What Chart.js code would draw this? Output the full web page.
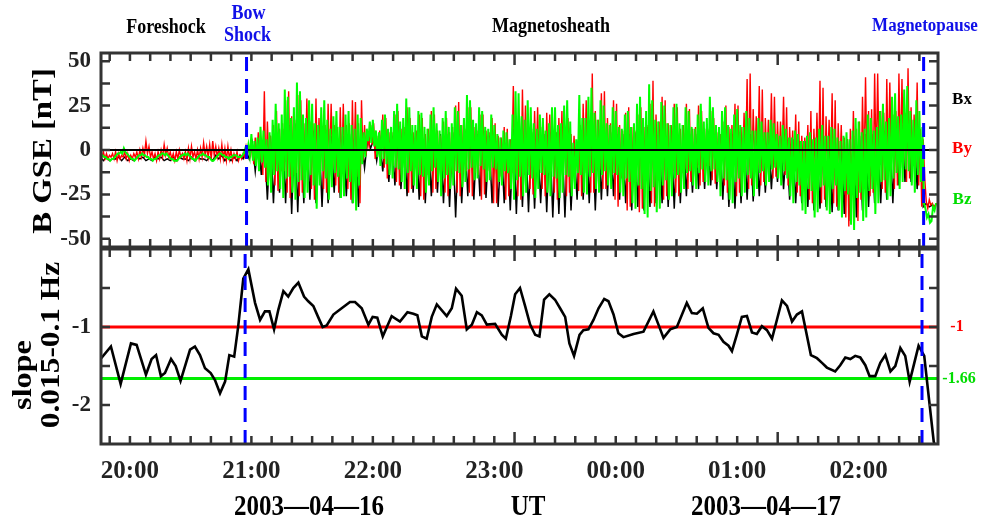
<!DOCTYPE html>
<html>
<head>
<meta charset="utf-8">
<script src="https://cdn.jsdelivr.net/npm/chart.js@4.4.0/dist/chart.umd.min.js"></script>
<style>
  body { margin: 0; background: #fff; }
  #wrap { position: relative; width: 985px; height: 525px; }
  canvas { position: absolute; left: 0; }
  #bfield { top: 0; }
  #slope { top: 248px; }
</style>
</head>
<body>
<div id="wrap">
  <canvas id="bfield" width="985" height="248"></canvas>
  <canvas id="slope" width="985" height="277"></canvas>
</div>
<script>
// time axis: minutes after 2003-04-16 20:00 UT
const xMin = -14.3;
const xMax = 399.2;
const binStart = -15;

const hourTicks = [0, 60, 120, 180, 240, 300, 360];
const hourLabels = ["20:00", "21:00", "22:00", "23:00", "00:00", "01:00", "02:00"];
const longTicks = [190, 320];

const bowShock = { top: 57.6, bottom: 56.9 };
const magnetopause = { top: 392.1, bottom: 391.3 };

const bTicks = [-50, -25, 0, 25, 50];
const slopeTicks = [-2, -1];
const slopeRed = -1;
const slopeGreen = -1.66;

// Bz and By: 1.5-minute bins, first and second sample of each bin (nT)
const bzUp = [
  -2, -3, -4, -5, -5, -4, -2, -1, 1, -2, -4, -5,
  -5, -3, -2, -3, -4, -5, -5, -4, -3, -2, -2, -4,
  -5, -6, -5, -3, -2, -2, -4, -5, -5, -3, -2, -3,
  -4, -6, -5, -3, -2, -3, -4, -4, -3, -3, -4, -3,
  1, 3, 9, 5, 7, 13, 11, 6, 10, 17, 26, 15,
  20, 34, 30, 18, 24, 38, 33, 20, 18, 28, 26, 15,
  14, 24, 28, 17, 12, 19, 22, 13, 13, 20, 22, 14,
  12, 20, 18, 10, 12, 16, 17, 11, 10, 17, 20, 12,
  13, 22, 26, 16, 18, 29, 24, 14, 14, 22, 21, 13,
  12, 20, 24, 15, 11, 18, 22, 13, 15, 24, 22, 14,
  18, 31, 28, 17, 15, 24, 22, 13, 12, 20, 14, 9,
  7, 11, 10, 6, 20, 33, 32, 19, 17, 28, 24, 15,
  12, 20, 18, 11, 15, 24, 24, 14, 15, 25, 28, 16,
  4, 6, 31, 18, 18, 30, 35, 21, 17, 28, 25, 15,
  14, 24, 22, 13, 12, 20, 22, 13, 15, 26, 30, 18,
  22, 37, 28, 17, 16, 27, 25, 15, 14, 24, 26, 15,
  14, 24, 22, 13, 12, 20, 26, 16, 18, 30, 24, 14,
  13, 22, 24, 14, 12, 20, 23, 14, 13, 22, 18, 11,
  11, 18, 16, 10, 10, 17, 15, 9, 8, 14, 12, 7,
  7, 11, 9, 5, 5, 8, 10, 6, 7, 12, 14, 8,
  8, 13, 12, 7, 5, 8, 10, 6, 11, 18, 16, 10,
  12, 20, 18, 11, 13, 22, 26, 16, 18, 30, 32, 19,
  20, 34, 36, 22, 17, 28, 22, 13, -33, -36, -40, -34
];
const bzDown = [
  -3, -4, -5, -6, -5, -3, -2, -2, -1, -3, -5, -6,
  -4, -3, -3, -4, -5, -6, -5, -3, -2, -3, -3, -5,
  -6, -6, -4, -3, -3, -3, -5, -6, -4, -3, -3, -4,
  -5, -6, -4, -2, -3, -4, -5, -4, -3, -4, -4, -2,
  -2, -3, -6, -9, -12, -7, -10, -20, -24, -14, -12, -22,
  -27, -16, -15, -24, -28, -18, -17, -27, -24, -14, -20, -33,
  -20, -12, -16, -28, -21, -13, -15, -27, -26, -16, -18, -30,
  -34, -20, -8, -4, 5, 4, 2, -4, -9, -5, -8, -14,
  -16, -10, -11, -18, -22, -13, -12, -20, -22, -14, -15, -24,
  -20, -12, -10, -18, -26, -16, -14, -22, -20, -12, -13, -21,
  -18, -11, -10, -17, -16, -9, -11, -18, -17, -10, -11, -18,
  -20, -12, -13, -22, -28, -17, -15, -26, -24, -14, -16, -27,
  -22, -13, -14, -24, -26, -15, -16, -27, -24, -14, -15, -26,
  -22, -13, -14, -24, -25, -15, -13, -22, -24, -14, -12, -20,
  -22, -13, -14, -24, -26, -16, -18, -30, -33, -20, -22, -36,
  -38, -23, -21, -35, -33, -20, -17, -28, -26, -16, -14, -24,
  -22, -13, -12, -20, -22, -13, -11, -18, -20, -12, -11, -18,
  -26, -16, -17, -28, -30, -18, -16, -26, -24, -14, -16, -26,
  -22, -13, -12, -20, -18, -11, -10, -16, -20, -12, -16, -26,
  -30, -18, -20, -34, -36, -22, -23, -38, -35, -21, -20, -34,
  -36, -22, -20, -34, -38, -23, -25, -42, -45, -27, -24, -40,
  -38, -23, -22, -36, -30, -18, -17, -28, -26, -16, -13, -22,
  -18, -11, -12, -20, -24, -14, -18, -30, -38, -41, -32, -30
];
const byUp = [
  -2, -1, -2, -3, -2, -1, -2, -3, -1, -2, -3, -2,
  -1, 0, 1, 5, 2, -1, -2, -1, 0, 3, 1, -1,
  -2, -1, 0, -2, -1, 1, 2, -1, 0, 1, 4, 2,
  3, 5, 2, 1, 3, 1, 2, 0, -2, -1, -3, -2,
  2, 1, 4, 7, 10, 6, 33, 16, 8, 14, 22, 12,
  15, 28, 33, 19, 17, 31, 28, 15, 29, 16, 15, 29,
  18, 10, 14, 26, 26, 14, 13, 24, 26, 14, 15, 28,
  27, 15, 28, 14, 7, 14, 15, 8, 11, 20, 18, 10,
  10, 20, 22, 12, 13, 24, 18, 10, 11, 20, 18, 9,
  12, 22, 20, 11, 8, 16, 18, 10, 13, 25, 27, 14,
  12, 24, 24, 13, 11, 20, 20, 11, 10, 18, 15, 8,
  7, 13, 12, 6, 36, 19, 18, 34, 25, 13, 12, 22,
  24, 13, 11, 21, 20, 11, 10, 18, 22, 12, 18, 9,
  8, 4, 14, 26, 28, 15, 43, 22, 17, 32, 33, 18,
  15, 28, 26, 14, 11, 21, 24, 13, 11, 20, 24, 13,
  14, 26, 39, 20, 16, 30, 28, 15, 14, 26, 24, 12,
  14, 26, 23, 12, 13, 25, 22, 12, 12, 22, 18, 10,
  9, 16, 25, 13, 14, 26, 25, 13, 21, 40, 43, 23,
  19, 36, 34, 18, 17, 32, 30, 16, 16, 30, 24, 13,
  11, 20, 16, 8, 7, 14, 22, 12, 21, 39, 35, 19,
  17, 32, 28, 15, 14, 7, 6, 12, 22, 12, 16, 30,
  41, 22, 23, 43, 43, 22, 21, 40, 38, 20, 22, 43,
  40, 21, 46, 24, 20, 38, 12, 6, -29, -28, -30, -31
];
const byDown = [
  -4, -5, -5, -4, -5, -6, -5, -4, -5, -6, -5, -4,
  -5, -4, -3, -2, -4, -5, -6, -5, -4, -3, -4, -5,
  -6, -5, -4, -5, -6, -5, -4, -5, -5, -4, -3, -4,
  -5, -3, -4, -5, -5, -6, -5, -6, -5, -6, -5, -4,
  -2, -3, -8, -4, -7, -14, -18, -9, -10, -20, -23, -12,
  -12, -24, -27, -14, -13, -26, -24, -12, -11, -22, -28, -14,
  -11, -22, -24, -12, -10, -20, -24, -12, -11, -22, -28, -14,
  -15, -30, -6, -3, 2, 3, -5, -2, -5, -10, -16, -8,
  -9, -18, -20, -10, -12, -24, -22, -11, -13, -26, -28, -14,
  -12, -24, -22, -11, -12, -24, -26, -13, -12, -24, -26, -13,
  -12, -24, -26, -13, -14, -28, -25, -12, -15, -30, -30, -15,
  -14, -28, -26, -13, -13, -26, -28, -14, -11, -22, -25, -12,
  -11, -22, -26, -13, -12, -24, -28, -14, -13, -26, -24, -12,
  -12, -23, -26, -13, -12, -24, -24, -12, -11, -22, -22, -11,
  -14, -28, -32, -16, -17, -34, -32, -16, -18, -35, -33, -17,
  -15, -30, -32, -16, -14, -28, -26, -13, -12, -24, -26, -13,
  -11, -22, -18, -9, -10, -20, -18, -9, -9, -17, -19, -10,
  -10, -20, -24, -12, -13, -26, -24, -12, -11, -22, -20, -10,
  -10, -20, -18, -9, -8, -16, -15, -8, -7, -14, -20, -10,
  -12, -24, -26, -13, -14, -28, -30, -15, -15, -30, -28, -14,
  -15, -30, -32, -16, -19, -38, -43, -22, -20, -40, -28, -14,
  -13, -26, -24, -12, -11, -22, -24, -12, -11, -22, -20, -10,
  -9, -18, -16, -8, -10, -20, -32, -16, -33, -31, -32, -30
];

// Bx: 3-minute bins, first and second sample of each bin (nT)
const bxUp = [
  -4, -4, -5, -4, -4, -5, -4, -4, -5, -4, -4, -5,
  -4, -4, -5, -4, -4, -5, -4, -3, -3, -4, -4, -3,
  0, 4, 6, 5, 8, 10, 12, 14, 15, 13, 12, 11,
  10, 10, 8, 9, 8, 9, 8, 6, 6, 6, 6, 7,
  8, 9, 10, 9, 8, 8, 8, 9, 9, 9, 10, 9,
  11, 10, 9, 9, 8, 7, 6, 6, 12, 12, 11, 10,
  9, 9, 10, 10, 10, 11, 3, 12, 12, 14, 12, 10,
  10, 9, 9, 9, 10, 11, 13, 12, 11, 10, 10, 10,
  10, 9, 9, 10, 11, 9, 9, 10, 9, 10, 10, 9,
  8, 8, 8, 7, 7, 6, 6, 5, 5, 5, 6, 6,
  6, 6, 5, 6, 8, 8, 9, 9, 10, 11, 12, 13,
  14, 16, 12, 8, -30, -31
];
const bxDown = [
  -6, -6, -5, -6, -6, -6, -5, -6, -6, -5, -6, -6,
  -6, -5, -6, -6, -5, -6, -6, -5, -6, -6, -6, -5,
  -5, -12, -14, -28, -30, -24, -30, -36, -35, -30, -28, -30,
  -32, -30, -24, -27, -26, -30, -32, -10, 1, -6, -12, -18,
  -20, -22, -26, -24, -28, -30, -26, -24, -30, -32, -38, -30,
  -26, -28, -26, -27, -30, -32, -30, -34, -36, -32, -35, -33,
  -30, -35, -38, -36, -38, -34, -28, -28, -30, -34, -28, -26,
  -26, -28, -30, -34, -32, -34, -32, -30, -30, -32, -33, -30,
  -26, -24, -22, -22, -20, -22, -28, -32, -33, -30, -28, -29,
  -26, -24, -22, -18, -22, -28, -30, -30, -32, -34, -33, -32,
  -35, -34, -36, -40, -38, -34, -32, -30, -30, -28, -30, -20,
  -18, -18, -22, -32, -32, -32
];

// spectral slope 0.015-0.1 Hz
const slopeTime = [
  -14.5, -9.4, -4.6, 0.5, 3.3, 7.9, 10.7, 12.9, 15.3, 17.3, 20.3, 22.6, 25,
  29.7, 32.1, 34.6, 37.1, 39.9, 42, 44.5, 47, 49.1, 51.5, 53.5, 56, 58.5,
  61.8, 64.3, 66.7, 68.9, 71.2, 73.3, 75.8, 78.2, 80.7, 83.2, 86, 88.1,
  90.6, 93.1, 95.2, 97.2, 100.5, 104.6, 108.7, 111.2, 114.5, 117.8, 119.9,
  122.2, 124.9, 129.3, 133.4, 137.1, 140, 142, 144.2, 146.6, 149.1, 151.6,
  156.5, 159, 161.1, 163.9, 166.4, 168.9, 171.4, 173.8, 176.3, 180.4, 183.7,
  185.7, 188.2, 190.3, 192.7, 195.2, 197.7, 200.2, 202.3, 204.6, 207.2, 210,
  212.5, 215, 217.1, 219.4, 222.1, 224, 226.5, 229, 231.5, 234.3, 236.4,
  238.9, 241.3, 243.8, 248.8, 253.7, 258.6, 263.6, 266.9, 270.2, 275.1,
  277.6, 280.1, 283, 285.8, 288.3, 290.8, 293.2, 295.7, 297.4, 299.8, 302.3,
  304.8, 307.3, 309.7, 312.2, 314.7, 317.2, 319.6, 322.1, 324.6, 327.1,
  329.5, 332, 336.4, 339.4, 341.9, 344.3, 348.4, 350.9, 353.4, 355.9, 358.3,
  360.8, 363.3, 365.4, 368.2, 370.7, 373.2, 375.7, 378.1, 380.6, 383, 385.2,
  387.5, 389.6, 392.4, 394.6, 397.1, 398.5
];
const slopeValue = [
  -1.41, -1.25, -1.73, -1.21, -1.23, -1.61, -1.41, -1.36, -1.63, -1.59, -1.41, -1.50, -1.69,
  -1.29, -1.25, -1.36, -1.53, -1.59, -1.68, -1.85, -1.70, -1.36, -1.38, -0.99, -0.38, -0.26,
  -0.69, -0.91, -0.80, -0.80, -1.03, -0.78, -0.54, -0.61, -0.50, -0.43, -0.61, -0.67,
  -0.73, -0.88, -1.00, -0.98, -0.84, -0.76, -0.68, -0.68, -0.76, -0.97, -0.87,
  -0.88, -1.12, -0.86, -0.93, -0.81, -0.83, -0.85, -1.12, -1.15, -0.87, -0.71,
  -0.86, -0.76, -0.51, -0.60, -1.03, -0.97, -0.81, -0.85, -0.97, -0.96, -1.10,
  -1.15, -0.86, -0.58, -0.50, -0.73, -0.97, -1.10, -1.12, -0.65, -0.58, -0.65,
  -0.76, -0.87, -1.21, -1.37, -1.10, -1.04, -1.03, -0.91, -0.76, -0.64, -0.67,
  -0.84, -1.08, -1.13, -1.09, -1.06, -0.80, -1.14, -1.03, -1.00, -0.69,
  -0.82, -0.83, -0.76, -1.01, -1.08, -1.10, -1.19, -1.24, -1.31, -1.10, -0.87,
  -0.86, -1.07, -1.09, -0.99, -1.04, -1.15, -0.91, -0.66, -0.73, -0.93,
  -0.84, -0.80, -1.36, -1.40, -1.46, -1.52, -1.57, -1.49, -1.39, -1.41, -1.37,
  -1.39, -1.49, -1.63, -1.63, -1.46, -1.36, -1.57, -1.50, -1.27, -1.37, -1.70,
  -1.46, -1.24, -1.37, -1.89, -2.47, -2.60
];

const serif = '"Liberation Serif", "Times New Roman", serif';

function zigzag(up, down, width, shift) {
  const pts = [];
  up.forEach((v, i) => {
    const t = binStart + i * width + shift;
    pts.push({ x: t, y: v });
    pts.push({ x: t + width / 2, y: down[i] });
  });
  return pts;
}

function vline(x, y0, y1) {
  return [{ x: x, y: y0 }, { x: x, y: y1 }];
}

function hline(y) {
  return [{ x: xMin, y: y }, { x: xMax, y: y }];
}

function drawText(ctx, t) {
  ctx.save();
  ctx.translate(t.x, t.y);
  const s = t.stretch || 1;
  if (t.rotate) {
    ctx.rotate(-Math.PI / 2);
    ctx.scale(s, 1);
  } else {
    ctx.scale(1, s);
  }
  ctx.font = "bold " + t.size + "px " + serif;
  ctx.fillStyle = t.color || "#000";
  ctx.textAlign = "center";
  ctx.textBaseline = "middle";
  ctx.fillText(t.text, 0, 0);
  ctx.restore();
}

// keep the plot area exactly where layout.padding puts it
function noEdgePadding(s) {
  s.paddingTop = 0;
  s.paddingBottom = 0;
  s.paddingLeft = 0;
  s.paddingRight = 0;
}

// box round the plot area with inward ticks on all four sides
const framePlugin = {
  id: "frame",
  afterDraw(chart, args, opts) {
    const { ctx, chartArea: a } = chart;
    const xs = chart.scales.x;
    const ys = chart.scales.y;
    ctx.save();
    ctx.strokeStyle = "#333";
    ctx.lineWidth = 2.5;
    ctx.beginPath();
    for (let m = -10; m <= 390; m += 10) {
      const px = xs.getPixelForValue(m);
      const len = longTicks.includes(m) ? 12 : 8;
      ctx.moveTo(px, a.top);
      ctx.lineTo(px, a.top + len);
      ctx.moveTo(px, a.bottom);
      ctx.lineTo(px, a.bottom - len);
    }
    opts.yMinor.forEach((v) => {
      const py = ys.getPixelForValue(v);
      ctx.moveTo(a.left, py);
      ctx.lineTo(a.left + 9, py);
      ctx.moveTo(a.right, py);
      ctx.lineTo(a.right - 9, py);
    });
    ctx.stroke();
    ctx.lineWidth = 3;
    ctx.strokeRect(a.left, a.top, a.right - a.left, a.bottom - a.top);
    ctx.restore();
    opts.texts(chart).forEach((t) => drawText(ctx, t));
  },
};

const tickFont = (size) => ({ family: serif, size: size, weight: "bold" });

// top panel: B field in GSE
const bCtx = document.getElementById("bfield").getContext("2d");
new Chart(bCtx, {
  type: "line",
  data: {
    datasets: [
      { data: vline(bowShock.top, -54.6, 54.6), borderColor: "#0000ff", borderWidth: 3, borderDash: [14, 8], order: 0 },
      { data: vline(magnetopause.top, -54.6, 54.6), borderColor: "#0000ff", borderWidth: 3, borderDash: [14, 8], order: 0 },
      { data: hline(0), borderColor: "#000", borderWidth: 2.2, order: 1 },
      { label: "Bz", data: zigzag(bzUp, bzDown, 1.5, 0), borderColor: "#00ff00", borderWidth: 2, order: 2 },
      { label: "By", data: zigzag(byUp, byDown, 1.5, 0.4), borderColor: "#ff0000", borderWidth: 1.4, order: 3 },
      { label: "Bx", data: zigzag(bxUp, bxDown, 3, 0.4), borderColor: "#000", borderWidth: 1.5, order: 4 },
    ],
  },
  options: {
    animation: false,
    responsive: false,
    devicePixelRatio: 1,
    events: [],
    layout: { padding: { left: 0, right: 47, top: 53, bottom: 1 } },
    elements: { point: { radius: 0 }, line: { tension: 0 } },
    scales: {
      x: { type: "linear", min: xMin, max: xMax, display: false },
      y: {
        min: -54.6,
        max: 54.6,
        afterFit: (s) => { s.width = 101; noEdgePadding(s); },
        afterBuildTicks: (s) => { s.ticks = bTicks.map((v) => ({ value: v })); },
        grid: { display: false, drawTicks: false },
        border: { display: false },
        ticks: { padding: 10, color: "#222", font: tickFont(23), callback: (v) => String(v) },
      },
    },
    plugins: {
      legend: { display: false },
      tooltip: { enabled: false },
      frame: {
        yMinor: [-50, -37.5, -25, -12.5, 0, 12.5, 25, 37.5, 50],
        texts: (chart) => {
          const bx = chart.scales.x.getPixelForValue(bowShock.top);
          return [
            { text: "Foreshock", x: 166, y: 28, size: 18, stretch: 1.15 },
            { text: "Bow", x: bx + 2, y: 14, size: 18, stretch: 1.15, color: "#1010e8" },
            { text: "Shock", x: bx + 1, y: 36, size: 18, stretch: 1.15, color: "#1010e8" },
            { text: "Magnetosheath", x: 551, y: 27, size: 18, stretch: 1.15 },
            { text: "Magnetopause", x: 925, y: 26, size: 17, stretch: 1.1, color: "#1010e8" },
            { text: "Bx", x: 962, y: 100, size: 17 },
            { text: "By", x: 962, y: 149, size: 17, color: "#ff0000" },
            { text: "Bz", x: 962, y: 200, size: 17, color: "#00dd00" },
            { text: "B GSE [nT]", x: 44, y: 151, size: 28, stretch: 1.17, rotate: true },
          ];
        },
      },
    },
  },
  plugins: [framePlugin],
});

// bottom panel: spectral slope
const sCtx = document.getElementById("slope").getContext("2d");
new Chart(sCtx, {
  type: "line",
  data: {
    datasets: [
      { data: vline(bowShock.bottom, -2.5, 0), borderColor: "#0000ff", borderWidth: 3, borderDash: [14, 8], order: 0 },
      { data: vline(magnetopause.bottom, -2.5, 0), borderColor: "#0000ff", borderWidth: 3, borderDash: [14, 8], order: 0 },
      { label: "slope", data: slopeTime.map((t, i) => ({ x: t, y: slopeValue[i] })), borderColor: "#000", borderWidth: 2.6, order: 1 },
      { data: hline(slopeRed), borderColor: "#ff0000", borderWidth: 3, order: 2 },
      { data: hline(slopeGreen), borderColor: "#00ee00", borderWidth: 3, order: 2 },
    ],
  },
  options: {
    animation: false,
    responsive: false,
    devicePixelRatio: 1,
    events: [],
    layout: { padding: { left: 0, right: 47, top: 1, bottom: 0 } },
    elements: { point: { radius: 0 }, line: { tension: 0 } },
    scales: {
      x: {
        type: "linear",
        min: xMin,
        max: xMax,
        afterFit: (s) => { s.height = 81; noEdgePadding(s); },
        afterBuildTicks: (s) => { s.ticks = hourTicks.map((v) => ({ value: v })); },
        grid: { display: false, drawTicks: false },
        border: { display: false },
        ticks: {
          padding: 13,
          color: "#222",
          font: tickFont(25),
          autoSkip: false,
          maxRotation: 0,
          minRotation: 0,
          callback: (v) => hourLabels[hourTicks.indexOf(v)],
        },
      },
      y: {
        min: -2.5,
        max: 0,
        afterFit: (s) => { s.width = 101; noEdgePadding(s); },
        afterBuildTicks: (s) => { s.ticks = slopeTicks.map((v) => ({ value: v })); },
        grid: { display: false, drawTicks: false },
        border: { display: false },
        ticks: { padding: 10, color: "#222", font: tickFont(23), callback: (v) => String(v) },
      },
    },
    plugins: {
      legend: { display: false },
      tooltip: { enabled: false },
      frame: {
        yMinor: [-2, -1.5, -1, -0.5],
        texts: (chart) => {
          const ys = chart.scales.y;
          return [
            { text: "slope", x: 24, y: 127, size: 28, stretch: 1.15, rotate: true },
            { text: "0.015-0.1 Hz", x: 52, y: 97, size: 28, stretch: 1.12, rotate: true },
            { text: "-1", x: 957, y: ys.getPixelForValue(slopeRed), size: 16, color: "#ff0000" },
            { text: "-1.66", x: 959, y: ys.getPixelForValue(slopeGreen), size: 16, color: "#00dd00" },
            { text: "2003\u201404\u201416", x: 309, y: 260, size: 25, stretch: 1.15 },
            { text: "UT", x: 528, y: 260, size: 25, stretch: 1.15 },
            { text: "2003\u201404\u201417", x: 766, y: 260, size: 25, stretch: 1.15 },
          ];
        },
      },
    },
  },
  plugins: [framePlugin],
});
</script>
</body>
</html>
